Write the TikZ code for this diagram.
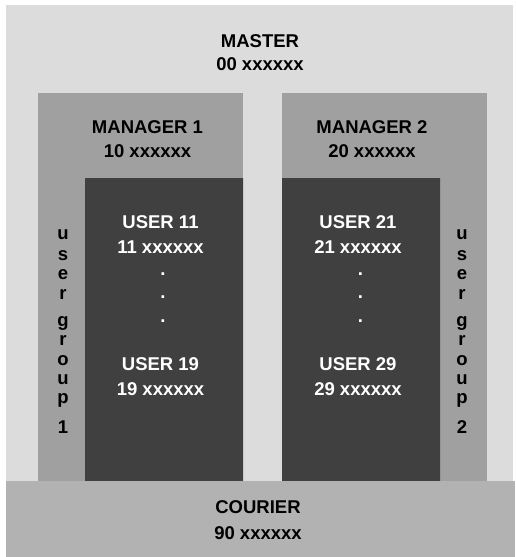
\documentclass[tikz,border=0pt]{standalone}
\usepackage{fontspec}
\setmainfont{Liberation Sans}
\definecolor{masterbg}{HTML}{DCDCDC}
\definecolor{managerbg}{HTML}{A0A0A0}
\definecolor{userbg}{HTML}{404040}
\definecolor{courierbg}{HTML}{B2B2B2}
\begin{document}
\begin{tikzpicture}[x=1pt,y=-1pt,txt/.style={font=\fontsize{18.5}{23}\selectfont\bfseries,inner sep=0pt,anchor=base},usr/.style={txt,text=white}]
	\useasboundingbox (0,0) rectangle (515,557);
	\fill[masterbg] (6,5) rectangle (513,557);
	\foreach \x in {38,282} \fill[managerbg] (\x,93) rectangle ++(205,388);
	\fill[userbg] (85,178) rectangle (243,481) (282,178) rectangle (440,481);
	\fill[courierbg] (6,481) rectangle (515,557);
	
	\node[txt] (master) at (260,47) {MASTER};
	\node[txt] (masterid) at (260,70) {00 xxxxxx};
	\foreach \g/\x in {1/147.5,2/372}{
		\node[txt] (mgr\g) at (\x,133) {MANAGER \g};
		\node[txt] (mgrid\g) at (\x,157) {\g0 xxxxxx};}
	\foreach \g/\x in {1/160.5,2/358}{
		\node[usr] (usrA\g) at (\x,228) {USER \g1};
		\node[usr] (usrAid\g) at (\x,253) {\g1 xxxxxx};
		\foreach \y [count=\k] in {275.5,298.5,322.5}
		\node[usr] (dot\g\k) at (\x+2.5,\y) {.};
		\node[usr] (usrB\g) at (\x,370) {USER \g9};
		\node[usr] (usrBid\g) at (\x,395) {\g9 xxxxxx};}
	\foreach \g/\x in {1/63,2/462}
	\foreach \ch/\y [count=\k] in {u/239,s/260,e/279,r/299,g/326,r/345,o/365,u/384,p/403,\g/433}
	\node[txt] (grp\g\k) at (\x,\y) {\ch};
	\node[txt] (courier) at (258,513) {COURIER};
	\node[txt] (courierid) at (258,539) {90 xxxxxx};
\end{tikzpicture}
\end{document}
